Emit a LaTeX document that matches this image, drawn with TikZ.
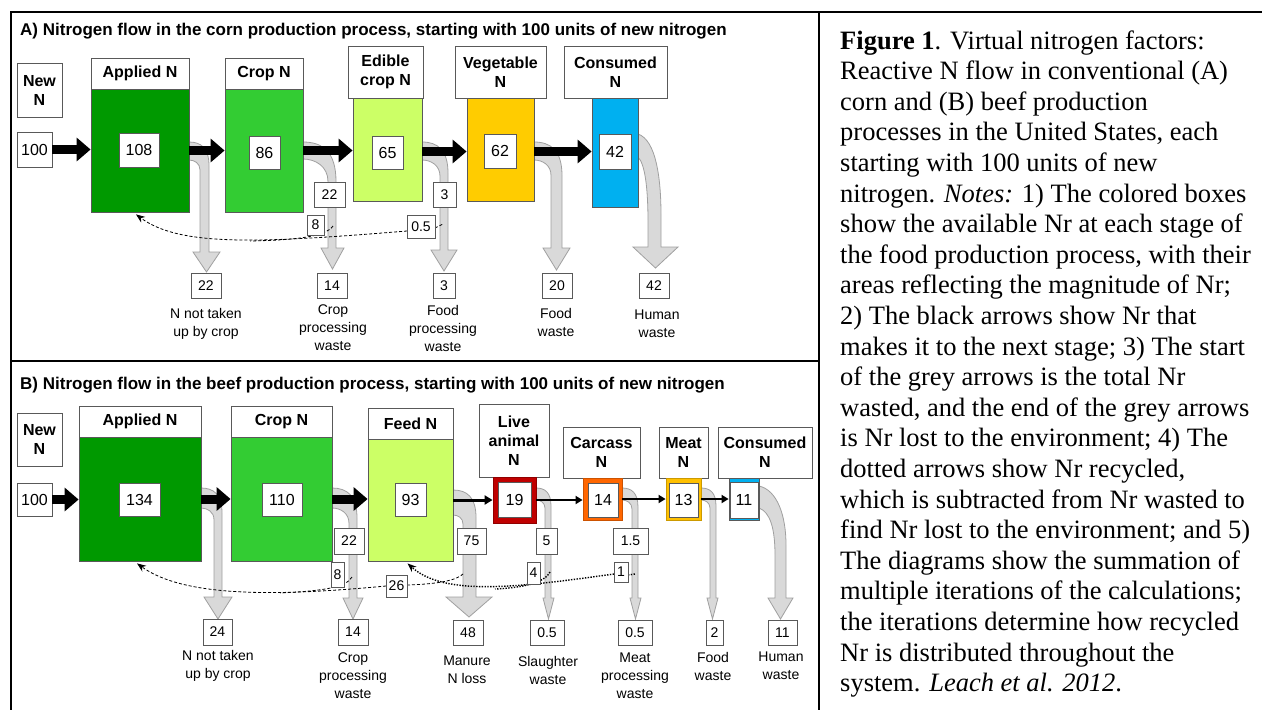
\documentclass[tikz,border=0pt]{standalone}
\usepackage{fontspec}
\setmainfont{Liberation Sans}
\newfontfamily\capfont{Liberation Serif}
\usetikzlibrary{arrows.meta,calc}
\definecolor{gA}{HTML}{009900}
\definecolor{gB}{HTML}{33CC33}
\definecolor{gC}{HTML}{CCFF66}
\definecolor{yV}{HTML}{FFCC00}
\definecolor{bC}{HTML}{00B0F0}
\definecolor{rL}{HTML}{C00000}
\definecolor{oC}{HTML}{FF6600}
\definecolor{yM}{HTML}{FFC000}
\definecolor{gf}{HTML}{D9D9D9}
\definecolor{gs}{HTML}{A0A0A0}
\definecolor{bd}{HTML}{595959}
\tikzset{
  hdr/.style={draw=bd, line width=0.8pt, fill=white, font=\fontsize{16}{19}\selectfont\bfseries, align=center, inner sep=0pt},
  stage/.style={draw=bd, line width=0.8pt, inner sep=0pt},
  val/.style={draw=bd, line width=0.8pt, fill=white, font=\fontsize{16}{19}\selectfont, inner sep=0pt},
  sval/.style={draw=bd, line width=0.8pt, fill=white, font=\fontsize{14}{16}\selectfont, inner sep=0pt},
  wlab/.style={font=\fontsize{14}{18}\selectfont, align=center, inner sep=0pt},
  ttl/.style={font=\fontsize{17}{20}\selectfont\bfseries, inner sep=0pt, anchor=base west},
  barrow/.style={line width=9pt, -{Triangle[width=23pt,length=14pt]}},
  tarrow/.style={line width=3pt, -{Triangle[width=9pt,length=8pt]}},
  tarrowb/.style={line width=2pt, -{Triangle[width=8pt,length=7pt]}},
  greyarr/.style={fill=gf, draw=gs, line width=0.8pt},
  recyc/.style={line width=0.8pt, dash pattern=on 3pt off 2pt},
  recarr/.style={recyc, -{Stealth[length=9pt,width=7pt]}},
  dotrec/.style={line width=1.4pt, dash pattern=on 1.4pt off 1.4pt},
  dotarr/.style={dotrec, -{Stealth[length=9pt,width=7pt]}},
  frameline/.style={line width=1.7pt},
  captext/.style={font=\capfont\fontsize{26.5}{30.6}\selectfont, anchor=base west, inner sep=0pt}
}
\newcommand\bx[7]{\node[#2, minimum width={#5-#3}, minimum height={#6-#4}] (#1) at ({(#3+#5)/2},{(#4+#6)/2}) {#7};}
% x0, ytop, ybot, xinner, xouter, yhead, headleft, headright, ytip
\newcommand\garrow[9]{%
  \pgfmathsetmacro\ga{#5-#1}%
  \pgfmathsetmacro\gb{#4-#1}%
  \filldraw[greyarr] (#1,#2) .. controls ({#1+0.6*\ga},#2) and (#5,{#2+0.3*\ga}) .. (#5,{#2+1.2*\ga})
    -- (#5,#6) -- (#8,#6) -- ({(#7+#8)/2},#9) -- (#7,#6) -- (#4,#6)
    -- (#4,{#3+0.9*\gb}) .. controls (#4,{#3+0.3*\gb}) and ({#1+0.5*\gb},#3) .. (#1,#3) -- cycle;}
\begin{document}
\begin{tikzpicture}[x=1pt,y=-1pt]
\useasboundingbox (0,0) rectangle (1262,710);
\fill[white] (0,0) rectangle (1262,710);
% frames
\draw[line width=2.7pt] (11,12) -- (11,710);
\draw[frameline] (10,12) -- (1262,12);
\draw[frameline] (11,361) -- (819,361);
\draw[frameline] (819,12) -- (819,710);
% titles
\node[ttl] (ttlA) at (20,35) {A) Nitrogen flow in the corn production process, starting with 100 units of new nitrogen};
\node[ttl] (ttlB) at (20,389) {B) Nitrogen flow in the beef production process, starting with 100 units of new nitrogen};

% ---------------- Panel A grey arrows
\garrow{189}{142}{160}{200}{209}{252}{193}{220}{272}
\garrow{303}{142}{159}{328}{336}{248}{321}{344}{269}
\garrow{422}{142}{160}{440}{448}{250}{431}{457}{271}
\garrow{534}{142}{160}{551}{562}{248}{543}{570}{270}
\filldraw[greyarr] (638,134) .. controls (656,140) and (661,178) .. (661,215) -- (661,247)
  -- (678,247) -- (655.5,268) -- (633,247) -- (648,247) -- (648,222)
  .. controls (648,188) and (645,164) .. (638,157) -- cycle;
% ---------------- Panel B grey arrows
\garrow{201}{488}{508}{214}{222}{597}{204}{232}{619}
\garrow{332}{488}{508}{349}{357}{598}{343}{363}{619}
\garrow{453}{490}{515}{463}{476}{597}{446}{492}{617}
\garrow{536}{488}{500}{545}{551}{598}{543}{554}{619}
\garrow{622}{488}{500}{632}{638}{598}{630}{641}{619}
\garrow{701}{488}{500}{710}{716}{598}{707}{718}{619}
\filldraw[greyarr] (759,486) .. controls (777,490) and (786,515) .. (786,545) -- (786,598)
  -- (793,598) -- (780.5,619) -- (768,598) -- (775,598) -- (775,555)
  .. controls (775,528) and (770,512) .. (759,508) -- cycle;

% ---------------- Panel A boxes
\bx{newA}{hdr}{17}{63}{62}{117}{New\\N}
\bx{n100A}{val}{17}{132}{52}{167}{100}
\bx{appHA}{hdr}{91}{58}{189}{89}{Applied N}
\bx{appA}{stage,fill=gA}{91}{89}{189}{212}{}
\bx{cropHA}{hdr}{225}{58}{303}{89}{Crop N}
\bx{cropA}{stage,fill=gB}{225}{89}{303}{212}{}
\bx{ediHA}{hdr}{348}{46}{423}{98}{Edible\\crop N}
\bx{ediA}{stage,fill=gC}{353}{98}{422}{201}{}
\bx{vegHA}{hdr}{455}{46}{546}{98}{Vegetable\\N}
\bx{vegA}{stage,fill=yV}{467}{98}{534}{201}{}
\bx{conHA}{hdr}{564}{46}{667}{98}{Consumed\\N}
\bx{conA}{stage,fill=bC}{592}{98}{638}{207}{}
\bx{v108}{val}{119}{133}{159}{167}{108}
\bx{v86}{val}{249}{136}{280}{169}{86}
\bx{v65}{val}{372}{136}{403}{169}{65}
\bx{v62}{val}{484}{134}{516}{168}{62}
\bx{v42}{val}{599}{134}{631}{169}{42}

% ---------------- Panel B boxes
\bx{newB}{hdr}{17}{413}{62}{466}{New\\N}
\bx{n100B}{val}{17}{483}{52}{516}{100}
\bx{appHB}{hdr}{79}{406}{201}{437}{Applied N}
\bx{appB}{stage,fill=gA}{79}{437}{201}{561}{}
\bx{cropHB}{hdr}{231}{406}{332}{437}{Crop N}
\bx{cropB}{stage,fill=gB}{231}{437}{332}{561}{}
\bx{feedHB}{hdr}{368}{408}{453}{439}{Feed N}
\bx{feedB}{stage,fill=gC}{368}{439}{453}{561}{}
\bx{liveHB}{hdr}{479}{404}{549}{477}{Live\\animal\\N}
\bx{liveB}{stage,fill=rL,draw=rL!75!black}{493}{477}{536}{523}{}
\bx{carHB}{hdr}{563}{427}{640}{478}{Carcass\\N}
\bx{carB}{stage,fill=oC,draw=oC!80!black}{583}{478}{622}{520}{}
\bx{meatHB}{hdr}{659}{427}{708}{478}{Meat\\N}
\bx{meatB}{stage,fill=yM,draw=yM!80!black}{666}{478}{701}{520}{}
\bx{conHB}{hdr}{718}{427}{812}{478}{Consumed\\N}
\bx{conB}{stage,fill=bC}{729}{478}{759}{520}{}
\bx{v134}{val}{119}{483}{160}{516}{134}
\bx{v110}{val}{262}{483}{302}{516}{110}
\bx{v93}{val}{395}{483}{426}{516}{93}
\bx{v19}{val}{498}{482}{531}{517}{19}
\bx{v14}{val}{588}{483}{618}{517}{14}
\bx{v13}{val}{669}{483}{698}{517}{13}
\bx{v11}{val}{730}{482}{758}{518}{11}

% ---------------- recycle A
\draw[recarr] (407,231) .. controls (260,243) and (180,247) .. ($(appA.south)+(-4,2)$);
\draw[recyc] (333,226) .. controls (326,236) and (300,240) .. (250,241);
\draw[recyc] (435,228) -- (443,224);
% ---------------- recycle B
\draw[recarr] (386,586) .. controls (280,596) and (185,598) .. ($(appB.south)+(-3,2)$);
\draw[recyc] (407,585) .. controls (440,584) and (458,580) .. (464,573);
\draw[recyc] (352,577) .. controls (346,588) and (320,591) .. (280,593);
\draw[dotarr] (614,574) .. controls (520,587) and (445,597) .. ($(feedB.south)+(-3,2)$);
\draw[dotrec] (550,572) .. controls (545,583) and (520,588) .. (495,589);
\draw[dotrec] (628,575) -- (635,574);

% ---------------- black arrows
\draw[barrow] (n100A.east) -- (n100A.east -| appA.west);
\draw[barrow] (appA.east) -- (appA.east -| cropA.west);
\draw[barrow] (cropA.east) -- (cropA.east -| ediA.west);
\draw[barrow] ($(ediA.east)+(0,2)$) -- ($(ediA.east -| vegA.west)+(0,2)$);
\draw[barrow] ($(vegA.east)+(0,2)$) -- ($(vegA.east -| conA.west)+(0,2)$);
\draw[barrow] (n100B.east) -- (n100B.east -| appB.west);
\draw[barrow] (appB.east) -- (appB.east -| cropB.west);
\draw[barrow] (cropB.east) -- (cropB.east -| feedB.west);
\draw[tarrow] (feedB.east |- liveB.west) -- (liveB.west);
\draw[tarrowb] (liveB.east) -- (liveB.east -| carB.west);
\draw[tarrowb] (carB.east) -- (carB.east -| meatB.west);
\draw[tarrowb] (meatB.east) -- (meatB.east -| conB.west);

% ---------------- waste / recycle boxes A
\bx{r22A}{sval}{314}{182}{345}{207}{22}
\bx{r8A}{sval}{307}{215}{324}{235}{8}
\bx{r3A}{sval}{433}{182}{456}{207}{3}
\bx{r05A}{sval}{407}{215}{435}{238}{0.5}
\bx{w22A}{sval}{191}{273}{221}{298}{22}
\bx{w14A}{sval}{317}{273}{347}{298}{14}
\bx{w3A}{sval}{433}{273}{455}{298}{3}
\bx{w20A}{sval}{542}{273}{572}{298}{20}
\bx{w42A}{sval}{639}{273}{669}{298}{42}
\node[wlab] (l1A) at (206,324) {N not taken\\up by crop};
\node[wlab] (l2A) at (333,328) {Crop\\processing\\waste};
\node[wlab] (l3A) at (443,328) {Food\\processing\\waste};
\node[wlab] (l4A) at (556,322) {Food\\waste};
\node[wlab] (l5A) at (657,324) {Human\\waste};
% ---------------- waste / recycle boxes B
\bx{r22B}{sval}{334}{528}{364}{554}{22}
\bx{r8B}{sval}{331}{562}{344}{587}{8}
\bx{r26B}{sval}{386}{575}{407}{597}{26}
\bx{r75B}{sval}{457}{528}{486}{554}{75}
\bx{r5B}{sval}{536}{528}{557}{554}{5}
\bx{r4B}{sval}{527}{562}{540}{584}{4}
\bx{r15B}{sval}{613}{528}{648}{554}{1.5}
\bx{r1B}{sval}{614}{562}{628}{582}{1}
\bx{w24B}{sval}{203}{619}{232}{645}{24}
\bx{w14B}{sval}{338}{619}{368}{645}{14}
\bx{w48B}{sval}{453}{620}{483}{645}{48}
\bx{w05aB}{sval}{530}{620}{564}{645}{0.5}
\bx{w05bB}{sval}{618}{620}{652}{645}{0.5}
\bx{w2B}{sval}{706}{620}{723}{645}{2}
\bx{w11B}{sval}{768}{620}{797}{645}{11}
\node[wlab] (l1B) at (218,666) {N not taken\\up by crop};
\node[wlab] (l2B) at (353,676) {Crop\\processing\\waste};
\node[wlab] (l3B) at (467,670) {Manure\\N loss};
\node[wlab] (l4B) at (548,670) {Slaughter\\waste};
\node[wlab] (l5B) at (635,676) {Meat\\processing\\waste};
\node[wlab] (l6B) at (713,666) {Food\\waste};
\node[wlab] (l7B) at (781,666) {Human\\waste};

% ---------------- caption
\foreach \t [count=\i] in {
  {\textbf{Figure 1}. Virtual nitrogen factors:},
  {Reactive N flow in conventional (A)},
  {corn and (B) beef production},
  {processes in the United States, each},
  {starting with 100 units of new},
  {nitrogen. \textit{Notes:} 1) The colored boxes},
  {show the available Nr at each stage of},
  {the food production process, with their},
  {areas reflecting the magnitude of Nr;},
  {2) The black arrows show Nr that},
  {makes it to the next stage; 3) The start},
  {of the grey arrows is the total Nr},
  {wasted, and the end of the grey arrows},
  {is Nr lost to the environment; 4) The},
  {dotted arrows show Nr recycled,},
  {which is subtracted from Nr wasted to},
  {find Nr lost to the environment; and 5)},
  {The diagrams show the summation of},
  {multiple iterations of the calculations;},
  {the iterations determine how recycled},
  {Nr is distributed throughout the},
  {system. \textit{Leach et al. 2012}.}}
  {\node[captext] (cap\i) at (840,{49+(\i-1)*30.6}) {\t};}
\end{tikzpicture}
\end{document}
